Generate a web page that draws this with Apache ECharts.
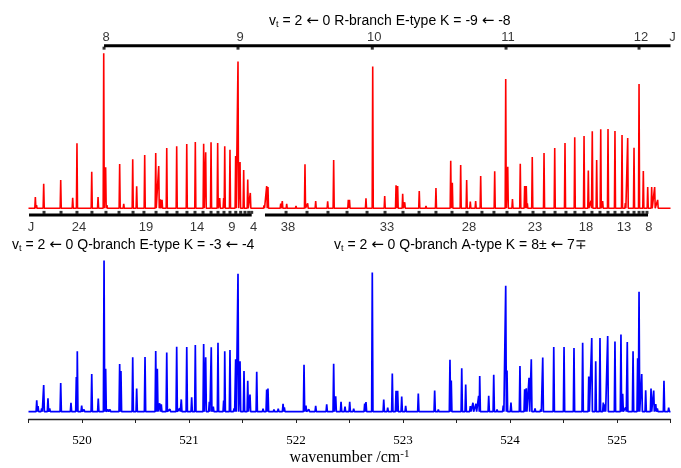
<!DOCTYPE html>
<html>
<head>
<meta charset="utf-8">
<script src="https://cdn.jsdelivr.net/npm/echarts@6/dist/echarts.min.js"></script>
<style>html,body{margin:0;padding:0;background:#fff}#c{width:681px;height:468px}</style>
</head>
<body>
<div id="c"></div>
<script>
// x range (wavenumber / cm-1)
const xMin = 519.5, xMax = 525.5;
const xTicks = [520, 521, 522, 523, 524, 525];

// simulated stick spectrum (red): [wavenumber, relative intensity]
const redLines = [
[519.564,0.073],[519.575,0.021],[519.642,0.159],[519.801,0.183],[519.913,0.068],[519.953,0.419],
[520.091,0.236],[520.150,0.073],[520.203,1.0],[520.221,0.265],[520.233,0.021],[520.352,0.286],
[520.390,0.028],[520.474,0.316],[520.511,0.142],[520.586,0.344],[520.689,0.357],[520.717,0.273],
[520.732,0.058],[520.748,0.054],[520.792,0.389],[520.885,0.400],[520.979,0.415],[521.059,0.428],
[521.137,0.417],[521.156,0.361],[521.206,0.426],[521.268,0.421],[521.287,0.066],[521.324,0.066],
[521.334,0.400],[521.383,0.378],[521.436,0.337],[521.458,0.946],[521.477,0.299],[521.511,0.247],
[521.549,0.185],[521.573,0.099],[521.701,0.019],[521.726,0.144],[521.738,0.137],[521.857,0.030],
[521.872,0.047],[521.913,0.028],[522.000,0.015],[522.084,0.284],[522.109,0.032],[522.184,0.047],
[522.296,0.045],[522.352,0.312],[522.489,0.054],[522.500,0.054],[522.654,0.065],[522.717,0.914],
[522.829,0.079],[522.935,0.148],[522.950,0.144],[522.997,0.094],[523.016,0.039],[523.152,0.112],
[523.215,0.015],[523.308,0.131],[523.446,0.307],[523.461,0.165],[523.539,0.279],[523.595,0.183],
[523.629,0.043],[523.679,0.047],[523.726,0.208],[523.857,0.239],[523.960,0.834],[523.979,0.268],
[524.023,0.060],[524.096,0.288],[524.137,0.144],[524.152,0.144],[524.162,0.032],[524.208,0.331],
[524.318,0.357],[524.418,0.389],[524.514,0.421],[524.605,0.458],[524.692,0.466],[524.732,0.243],
[524.757,0.049],[524.769,0.497],[524.810,0.312],[524.848,0.510],[524.866,0.047],[524.916,0.512],
[524.981,0.499],[525.047,0.473],[525.078,0.034],[525.100,0.454],[525.159,0.391],[525.206,0.802],
[525.246,0.241],[525.287,0.137],[525.324,0.137],[525.352,0.137],[525.380,0.054]
];

// observed spectrum (blue): [wavenumber, relative intensity]
const blueLines = [
[519.511,0.010],[519.577,0.076],[519.589,0.037],[519.623,0.022],[519.642,0.177],[519.682,0.089],
[519.698,0.022],[519.729,0.009],[519.766,0.009],[519.801,0.190],[519.853,0.009],[519.897,0.059],
[519.947,0.229],[519.956,0.400],[519.997,0.041],[520.019,0.015],[520.091,0.249],[520.152,0.087],
[520.206,1.0],[520.221,0.284],[520.243,0.015],[520.262,0.015],[520.352,0.315],[520.364,0.269],
[520.474,0.360],[520.511,0.153],[520.589,0.362],[520.689,0.402],[520.704,0.284],[520.726,0.056],
[520.741,0.048],[520.792,0.391],[520.822,0.017],[520.885,0.430],[520.913,0.022],[520.928,0.081],
[520.979,0.428],[521.025,0.096],[521.059,0.441],[521.137,0.448],[521.156,0.360],[521.190,0.066],
[521.208,0.426],[521.227,0.033],[521.271,0.456],[521.324,0.074],[521.334,0.400],[521.383,0.408],
[521.421,0.022],[521.436,0.347],[521.458,0.913],[521.477,0.334],[521.514,0.269],[521.549,0.205],
[521.570,0.113],[521.633,0.264],[521.692,0.020],[521.726,0.146],[521.738,0.153],[521.794,0.015],
[521.834,0.020],[521.879,0.052],[521.891,0.028],[521.984,0.013],[522.075,0.310],[522.093,0.041],
[522.121,0.015],[522.184,0.039],[522.287,0.048],[522.352,0.317],[522.371,0.102],[522.421,0.066],
[522.458,0.033],[522.502,0.066],[522.539,0.020],[522.642,0.054],[522.654,0.063],[522.713,0.921],
[522.820,0.081],[522.857,0.026],[522.900,0.253],[522.935,0.138],[522.950,0.138],[522.988,0.100],
[523.025,0.039],[523.065,0.013],[523.143,0.120],[523.215,0.010],[523.296,0.140],[523.330,0.015],
[523.439,0.343],[523.451,0.207],[523.549,0.288],[523.586,0.179],[523.629,0.037],[523.654,0.059],
[523.682,0.052],[523.707,0.105],[523.717,0.236],[523.801,0.105],[523.848,0.244],[523.879,0.015],
[523.937,0.041],[523.960,0.834],[523.972,0.273],[524.009,0.061],[524.093,0.303],[524.137,0.148],
[524.152,0.155],[524.178,0.225],[524.199,0.347],[524.234,0.022],[524.287,0.015],[524.306,0.358],
[524.409,0.428],[524.505,0.428],[524.598,0.421],[524.679,0.456],[524.736,0.233],[524.764,0.487],
[524.801,0.334],[524.841,0.487],[524.872,0.061],[524.888,0.048],[524.913,0.500],[524.981,0.465],
[525.037,0.511],[525.053,0.118],[525.081,0.028],[525.096,0.461],[525.150,0.400],[525.193,0.354],
[525.206,0.793],[525.231,0.249],[525.268,0.142],[525.318,0.153],[525.343,0.140],[525.362,0.050],
[525.377,0.022],[525.439,0.205],[525.483,0.026]
];

// R-branch E-type K = -9 <- -8 assignments
const rJ  = [8, 9, 10, 11, 12];
const rWn = [520.206, 521.458, 522.713, 523.963, 525.206];

// Q-branch E-type K = -3 <- -4 assignments (J = 26 ... 4)
const qeJ  = [26,25,24,23,22,21,20,19,18,17,16,15,14,13,12,11,10,9,8,7,6,5,4];
const qeWn = [519.645,519.804,519.953,520.093,520.224,520.346,520.477,520.579,520.692,520.794,
              520.888,520.981,521.056,521.131,521.206,521.271,521.327,521.383,521.437,521.483,
              521.523,521.558,521.586];
const qeLabelJ = [24, 19, 14, 9, 4];
const qeBar = [519.505, 521.586];

// Q-branch A-type K = 8± <- 7∓ assignments (J = 38 ... 8)
const qaJ  = [38,37,36,35,34,33,32,31,30,29,28,27,26,25,24,23,22,21,20,19,18,17,16,15,14,13,12,11,10,9,8];
const qaWn = [521.907,522.103,522.299,522.477,522.664,522.832,523.000,523.150,523.308,523.458,
              523.598,523.738,523.850,523.972,524.093,524.215,524.318,524.421,524.523,524.607,
              524.692,524.766,524.841,524.916,524.981,525.047,525.103,525.159,525.206,525.243,525.280];
const qaLabelJ = [38, 33, 28, 23, 18, 13, 8];
const qaBar = [521.710, 525.290];

function sticks(lines, hw) {
  const s = lines.slice().sort((a, b) => a[0] - b[0]);
  const pts = [[xMin, 0]];
  s.forEach(l => { pts.push([l[0] - hw, 0], [l[0], l[1]], [l[0] + hw, 0]); });
  pts.push([xMax, 0]);
  return pts;
}

const SANS = "'Liberation Sans', Arial, sans-serif";
const SERIF = "'Liberation Serif', 'Times New Roman', serif";
const topBarY = 1.049, topLabY = 1.099, botBarY = -0.043, botLabY = -0.121;

const topLabels = rJ.map((j, i) => ({ value: [rWn[i], topLabY], name: String(j) }))
  .concat([{ value: [xMax, topLabY], name: 'J' }]);
const botLabels = [{ value: [qeBar[0], botLabY], name: 'J' }]
  .concat(qeLabelJ.map(j => ({ value: [qeWn[qeJ.indexOf(j)], botLabY], name: String(j) })))
  .concat(qaLabelJ.map(j => ({ value: [qaWn[qaJ.indexOf(j)], botLabY], name: String(j) })));

const titleStyle = {
  fontFamily: SANS, fontSize: 14, fontWeight: 'normal', color: '#000', lineHeight: 16,
  rich: {
    t: { fontFamily: SANS, fontSize: 9, lineHeight: 9, verticalAlign: 'bottom', color: '#000' },
    a: { fontFamily: "'DejaVu Sans', sans-serif", fontSize: 15, lineHeight: 16, color: '#000' }
  }
};

const chart = echarts.init(document.getElementById('c'), null, { renderer: 'canvas' });
chart.setOption({
  animation: false,
  backgroundColor: '#fff',
  title: [
    { text: 'v{t|t} = 2 {a|←} 0 R-branch E-type K = -9 {a|←} -8', left: 269, top: 12.7, padding: 0, textStyle: titleStyle },
    { text: 'v{t|t} = 2 {a|←} 0 Q-branch E-type K = -3 {a|←} -4', left: 12, top: 237, padding: 0, textStyle: titleStyle },
    { text: 'v{t|t} = 2 {a|←} 0 Q-branch A-type K = 8± {a|←} 7∓', left: 334, top: 237, padding: 0, textStyle: titleStyle }
  ],
  grid: [
    { left: 28.5, right: 10.5, top: 30, height: 200 },
    { left: 28.5, right: 10.5, top: 255, bottom: 47.3 }
  ],
  xAxis: [
    { gridIndex: 0, type: 'value', min: xMin, max: xMax, show: false },
    { gridIndex: 1, type: 'value', min: xMin, max: xMax, interval: 0.5,
      axisLine: { show: true, onZero: false, lineStyle: { color: '#222', width: 1.3 } },
      axisTick: { show: true, length: 4, lineStyle: { color: '#222', width: 1 } },
      axisLabel: { margin: 15, fontFamily: SERIF, fontSize: 13, color: '#000',
        formatter: v => xTicks.some(t => Math.abs(t - v) < 1e-6) ? String(Math.round(v)) : '' },
      splitLine: { show: false },
      name: 'wavenumber /cm{s|-1}', nameLocation: 'middle', nameGap: 30,
      nameTextStyle: { fontFamily: SERIF, fontSize: 16, color: '#000', lineHeight: 18,
        rich: { s: { fontFamily: SERIF, fontSize: 11, lineHeight: 11, verticalAlign: 'top', color: '#000' } } }
    }
  ],
  yAxis: [
    { gridIndex: 0, type: 'value', min: -0.14, max: 1.15, show: false },
    { gridIndex: 1, type: 'value', min: -0.0485, max: 1.037, show: false }
  ],
  series: [
    { type: 'line', xAxisIndex: 0, yAxisIndex: 0, data: sticks(redLines, 0.005), showSymbol: false,
      symbol: 'none', sampling: null, lineStyle: { color: '#ff0000', width: 1.6 }, silent: true, z: 2 },
    { type: 'line', xAxisIndex: 1, yAxisIndex: 1, data: sticks(blueLines, 0.006), showSymbol: false,
      symbol: 'none', lineStyle: { color: '#0000ff', width: 1.7 }, silent: true, z: 2 },
    { type: 'line', xAxisIndex: 0, yAxisIndex: 0, data: [[rWn[0], topBarY], [xMax, topBarY]], symbol: 'none',
      clip: false, lineStyle: { color: '#000', width: 3 }, silent: true },
    { type: 'line', xAxisIndex: 0, yAxisIndex: 0, data: [[qeBar[0], botBarY], [qeBar[1], botBarY]], symbol: 'none',
      clip: false, lineStyle: { color: '#000', width: 3 }, silent: true },
    { type: 'line', xAxisIndex: 0, yAxisIndex: 0, data: [[qaBar[0], botBarY], [qaBar[1], botBarY]], symbol: 'none',
      clip: false, lineStyle: { color: '#000', width: 3 }, silent: true },
    { type: 'scatter', xAxisIndex: 0, yAxisIndex: 0, data: rWn.map(x => [x, topBarY]), symbol: 'rect',
      symbolSize: [3, 3], symbolOffset: [0, 2.5], itemStyle: { color: '#000' }, silent: true, clip: false },
    { type: 'scatter', xAxisIndex: 0, yAxisIndex: 0, data: qeWn.concat(qaWn).map(x => [x, botBarY]), symbol: 'rect',
      symbolSize: [3, 3], symbolOffset: [0, -2.6], itemStyle: { color: '#000' }, silent: true, clip: false },
    { type: 'scatter', xAxisIndex: 0, yAxisIndex: 0, data: topLabels.concat(botLabels), symbolSize: 0,
      clip: false, silent: true,
      label: { show: true, position: 'inside', offset: [2, 0], formatter: '{b}', fontFamily: SANS, fontSize: 13, color: '#000' } }
  ]
});
</script>
</body>
</html>
